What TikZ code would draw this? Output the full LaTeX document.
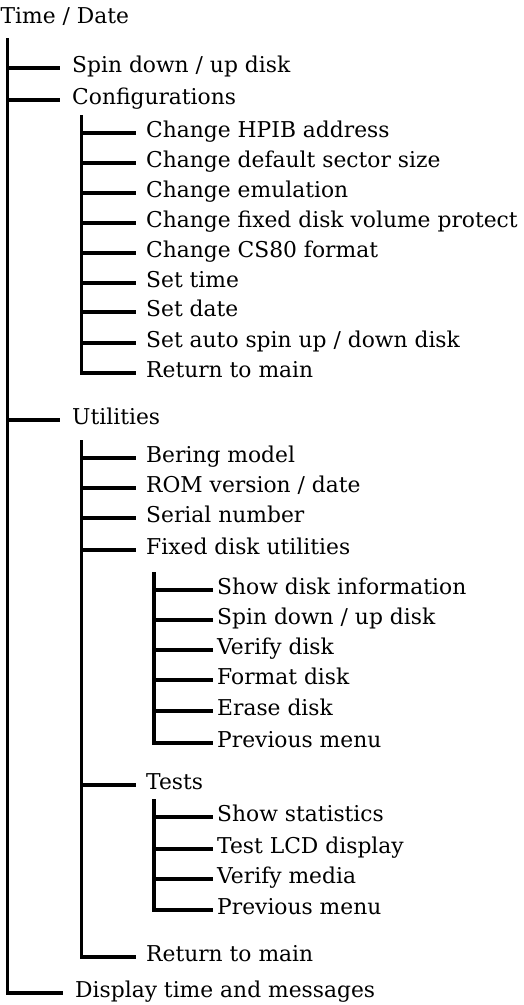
\documentclass[tikz,border=0pt]{standalone}
\usepackage{fontspec}
\setmainfont{DejaVu Serif}
\usetikzlibrary{positioning}

\begin{document}
\begin{tikzpicture}[x=1pt,y=-1pt,
  item/.style={anchor=west,inner ysep=0pt,text height=13pt,text depth=5pt,
    font=\fontsize{21.8}{25}\selectfont},
  lvlone/.style={item,inner xsep=12pt},
  lvltwo/.style={item,inner xsep=10pt},
  lvlthree/.style={item,inner xsep=4pt},
  branch/.style={line width=3.2pt}]
  \useasboundingbox (0,0) rectangle (524,1005);

  % top of the menu
  \node[item,anchor=base west,inner xsep=0pt] (title) at (0.5,23) {Time / Date};
  \coordinate (main) at (7.5,38);

  % main menu
  \node[lvlone] (spin)   at (60,68)  {Spin down / up disk};
  \node[lvlone] (config) at (60,100) {Configurations};
  \node[lvlone] (util)   at (60,420) {Utilities};
  \node[lvlone] (disp)   at (63,993) {Display time and messages};

  % configurations
  \coordinate (cfgtop) at (81.5,115);
  \node[lvltwo] (hpib)   at (136,133) {Change HPIB address};
  \node[lvltwo] (sector) at (136,163) {Change default sector size};
  \node[lvltwo] (emul)   at (136,193) {Change emulation};
  \node[lvltwo] (protect) at (136,223) {Change fixed disk volume protect};
  \node[lvltwo] (cs80)   at (136,253) {Change CS80 format};
  \node[lvltwo] (settime) at (136,283) {Set time};
  \node[lvltwo] (setdate) at (136,312) {Set date};
  \node[lvltwo] (autospin) at (136,343) {Set auto spin up / down disk};
  \node[lvltwo] (cfgret) at (136,373) {Return to main};

  % utilities
  \coordinate (utltop) at (81.5,440);
  \node[lvltwo] (model)  at (136,458) {Bering model};
  \node[lvltwo] (rom)    at (136,488) {ROM version / date};
  \node[lvltwo] (serial) at (136,518) {Serial number};
  \node[lvltwo] (fixed)  at (136,550) {Fixed disk utilities};
  \node[lvltwo] (tests)  at (136,785) {Tests};
  \node[lvltwo] (utlret) at (136,957) {Return to main};

  % fixed disk utilities
  \coordinate (fixtop) at (154,572);
  \node[lvlthree] (info)   at (213,590) {Show disk information};
  \node[lvlthree] (fspin)  at (213,620) {Spin down / up disk};
  \node[lvlthree] (verify) at (213,650) {Verify disk};
  \node[lvlthree] (format) at (213,680) {Format disk};
  \node[lvlthree] (erase)  at (213,711) {Erase disk};
  \node[lvlthree] (fixprev) at (213,743) {Previous menu};

  % tests
  \coordinate (tsttop) at (154,799);
  \node[lvlthree] (stats)  at (213,817) {Show statistics};
  \node[lvlthree] (lcd)    at (213,849) {Test LCD display};
  \node[lvlthree] (media)  at (213,879) {Verify media};
  \node[lvlthree] (tstprev) at (213,910) {Previous menu};

  % connectors
  \draw[branch] (main) |- (disp.west);
  \foreach \n in {spin,config,util}
    \draw[branch] (main |- \n.west) -- (\n.west);
  \draw[branch] (cfgtop) |- (cfgret.west);
  \foreach \n in {hpib,sector,emul,protect,cs80,settime,setdate,autospin}
    \draw[branch] (cfgtop |- \n.west) -- (\n.west);
  \draw[branch] (utltop) |- (utlret.west);
  \foreach \n in {model,rom,serial,fixed,tests}
    \draw[branch] (utltop |- \n.west) -- (\n.west);
  \draw[branch] (fixtop) |- (fixprev.west);
  \foreach \n in {info,fspin,verify,format,erase}
    \draw[branch] (fixtop |- \n.west) -- (\n.west);
  \draw[branch] (tsttop) |- (tstprev.west);
  \foreach \n in {stats,lcd,media}
    \draw[branch] (tsttop |- \n.west) -- (\n.west);
\end{tikzpicture}
\end{document}
